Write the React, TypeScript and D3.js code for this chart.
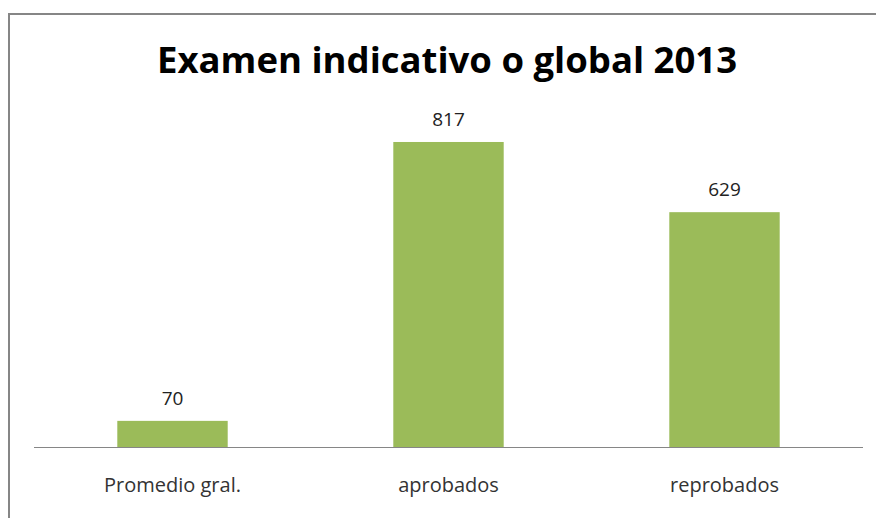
import React from "react";
import * as d3 from "d3";

const categories = ["Promedio gral.", "aprobados", "reprobados"];
const values = [70, 817, 629];
const valueLabels = ["70", "817", "629"];
const title = "Examen indicativo o global 2013";

export default function App() {
  const W = 876, H = 518;
  const x = d3.scaleBand().domain(categories).range([34.5, 862.5]).paddingInner(0.6).paddingOuter(0.3);
  const y = d3.scaleLinear().domain([0, 900]).range([447, 111]);
  return (
    <svg width={W} height={H} style={{ position: "absolute", left: 0, top: 0, background: "#fff" }}>
      <rect x={9} y={14} width={W + 20} height={H + 20} fill="#fff" stroke="#868686" strokeWidth={2} />
      <text x={447} y={73} textAnchor="middle" fontFamily="Open Sans" fontWeight="bold" fontSize={35}
        textLength={580} lengthAdjust="spacingAndGlyphs" fill="#000">{title}</text>
      {categories.map((c, i) => (
        <g key={c}>
          <rect x={x(c)} y={y(values[i])} width={x.bandwidth()} height={y(0) - y(values[i])} fill="#9BBB59" />
          <text x={x(c)! + x.bandwidth() / 2} y={y(values[i]) - 16} textAnchor="middle"
            fontFamily="Open Sans" fontSize={19} fill="#222">{valueLabels[i]}</text>
          <text x={x(c)! + x.bandwidth() / 2} y={492} textAnchor="middle"
            fontFamily="Open Sans" fontSize={20} fill="#333">{c}</text>
        </g>
      ))}
      <line x1={34} x2={863} y1={447.5} y2={447.5} stroke="#868686" strokeWidth={1.2} />
    </svg>
  );
}
